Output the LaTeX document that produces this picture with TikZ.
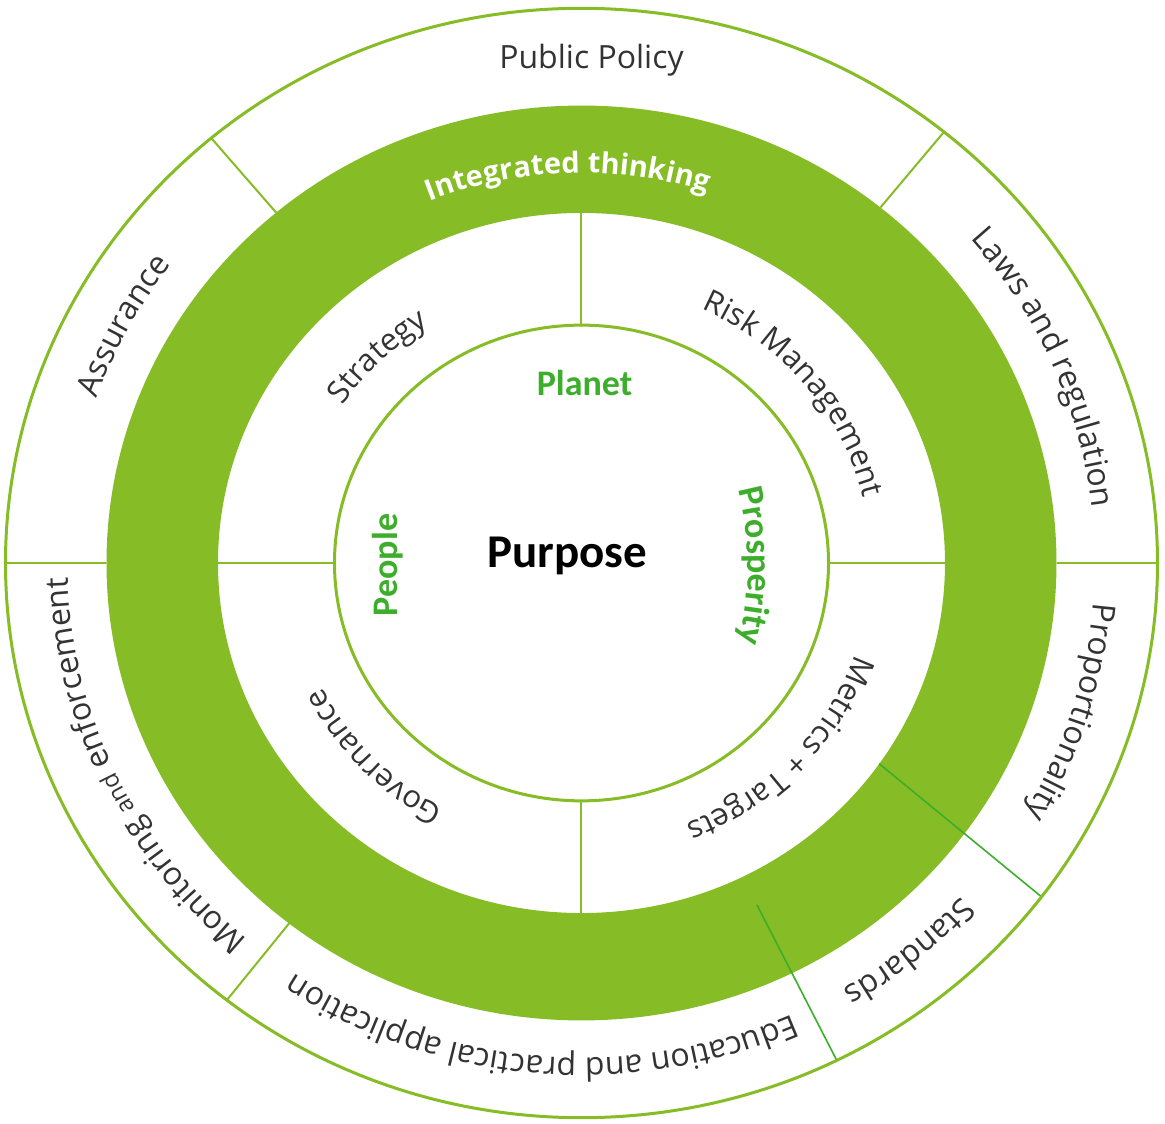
\documentclass[tikz,border=0pt]{standalone}
\usepackage{fontspec}
\setmainfont{Open Sans}
\newfontfamily\headfont{Carlito}
\usetikzlibrary{decorations.text}
\definecolor{ringgreen}{HTML}{86BC25}
\definecolor{leafgreen}{HTML}{3DAE2B}
\definecolor{inkgray}{HTML}{333333}
\newcommand{\ringfont}{\fontsize{32}{38}\selectfont}
\newcommand{\smallringfont}{\fontsize{24}{29}\selectfont}
\newcommand{\bandfont}{\fontsize{31}{37}\selectfont}
\newcommand{\keyfont}{\headfont\bfseries\fontsize{36}{43}\selectfont}

\begin{document}
\begin{tikzpicture}[
  x=1pt, y=1pt,
  rim/.style = {ringgreen, line width=3pt},
  divider/.style = {ringgreen, line width=2pt},
  crossline/.style = {leafgreen, line width=1.6pt},
  arclabel/.style = {decorate, decoration={text along path, text align=center, text color=inkgray}},
  keylabel/.style = {leafgreen, font=\keyfont, inner sep=0pt}
  ]
  \useasboundingbox (-581.5,-561) rectangle (583.5,563);
  % Rings
  \begin{scope}[yscale=0.963]
    \fill[ringgreen, even odd rule] (0,0) circle (475) circle (363.5);
    \foreach \a in {130,51,0,180,232}
      \draw[divider] (\a:475) -- (\a:576);
    \foreach \a in {90,270,0,180}
      \draw[divider] (\a:247) -- (\a:363.5);
    \draw[crossline] (-35:363.5) -- (-37:576);
    \draw[crossline] (-63.7:396) -- (-63.7:576);
    \draw[rim] (0,0) circle (576);
    \draw[rim] (0,0) circle (247);
  \end{scope}
  % Outer ring
  \node[inkgray, font=\ringfont, anchor=base] (policy) at (10,494) {Public Policy};
  \path[arclabel, decoration={text={|\ringfont|Laws and regulation}}]
    (93:514 and 495) arc[start angle=93, end angle=-47, x radius=514, y radius=495];
  \path[arclabel, decoration={text={|\ringfont|Proportionality}}]
    (53:514 and 495) arc[start angle=53, end angle=-87, x radius=514, y radius=495];
  \path[arclabel, decoration={text={|\ringfont|Standards}}]
    (20:514 and 495) arc[start angle=20, end angle=-120, x radius=514, y radius=495];
  \path[arclabel, decoration={text={|\ringfont|Education and practical application}}]
    (-25:514 and 495) arc[start angle=-25, end angle=-165, x radius=514, y radius=495];
  \path[arclabel, decoration={text={|\ringfont|Monitoring |\smallringfont|and|\ringfont| enforcement}}]
    (275:514 and 495) arc[start angle=275, end angle=135, x radius=514, y radius=495];
  \path[arclabel, decoration={text={|\ringfont|Assurance}}]
    (222.5:514 and 495) arc[start angle=222.5, end angle=82.5, x radius=514, y radius=495];
  % Green ring
  \path[decorate, decoration={text along path, text align=center, text color=white,
      text={|\fontsize{29}{35}\selectfont\bfseries|Integrated thinking}}]
    (162:405 and 390) arc[start angle=162, end angle=22, x radius=405, y radius=390];
  % Inner band
  \path[arclabel, decoration={text={|\bandfont|Strategy}}]
    (204.6:290 and 279) arc[start angle=204.6, end angle=64.6, x radius=290, y radius=279];
  \path[arclabel, decoration={text={|\bandfont|Risk Management}}]
    (108.8:290 and 279) arc[start angle=108.8, end angle=-31.2, x radius=290, y radius=279];
  \path[arclabel, decoration={text={|\bandfont|Metrics + Targets}}]
    (26.7:290 and 279) arc[start angle=26.7, end angle=-113.3, x radius=290, y radius=279];
  \path[arclabel, decoration={text={|\bandfont|Governance}}]
    (293.2:290 and 279) arc[start angle=293.2, end angle=153.2, x radius=290, y radius=279];
  % Centre
  \node[keylabel, anchor=base] (planet) at (3,167) {Planet};
  \node[keylabel, anchor=base, rotate=90] (people) at (-183.5,-2) {People};
  \path[decorate, decoration={text along path, text align=center, text color=leafgreen,
      text={|\keyfont|Prosperity}}]
    (-133.5,-3) ++(40:300) arc[start angle=40, end angle=-40, radius=300];
  \node[font=\headfont\bfseries\fontsize{47}{56}\selectfont, anchor=base] (purpose) at (-14.5,-5) {Purpose};
\end{tikzpicture}
\end{document}
